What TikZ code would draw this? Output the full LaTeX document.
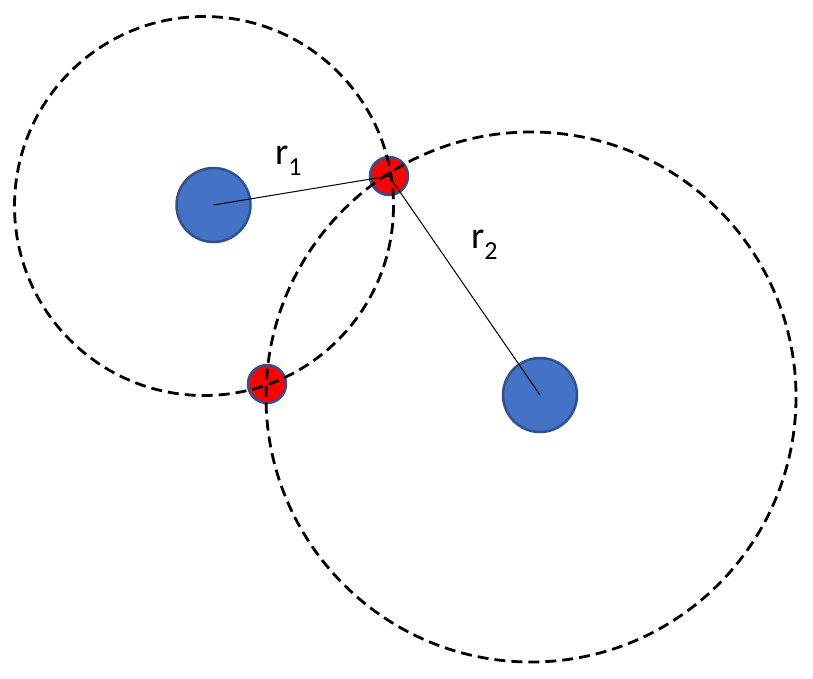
\documentclass[tikz,border=0pt]{standalone}
\usepackage{fontspec}
\setmainfont{Carlito}
\definecolor{pblue}{HTML}{4472C4}
\definecolor{pedge}{HTML}{2F528F}
\begin{document}
\begin{tikzpicture}[x=1pt,y=-1pt,
  bigdot/.style={circle,fill=pblue,draw=pedge,line width=2.5pt,minimum size=74pt,inner sep=0pt},
  reddot/.style={circle,fill=red,draw=pedge,line width=2.5pt,minimum size=38pt,inner sep=0pt},
  rangecircle/.style={draw=black,line width=2.8pt,dash pattern=on 11pt off 6pt},
  radiusline/.style={draw=black,line width=1pt},
  lbl/.style={anchor=base west,inner sep=0pt,font=\fontsize{38}{40}\selectfont}]
\useasboundingbox (0,0) rectangle (813,678);
\node[bigdot] (b1) at (213.5,205) {};
\node[bigdot] (b2) at (540,395) {};
\node[reddot] (p1) at (389,176) {};
\node[reddot] (p2) at (267,384) {};
\coordinate (c1) at (204,206);
\coordinate (c2) at (531,397);
\draw[rangecircle] (c1) circle[radius=189.5];
\draw[rangecircle] (c2) circle[radius=265];
\draw[radiusline] (b1.center) -- (p1.center);
\draw[radiusline] (p1.center) -- (b2.center);
\node[lbl] (l1) at (275,164) {r\raisebox{-11pt}{\fontsize{26}{28}\selectfont 1}};
\node[lbl] (l2) at (471,248) {r\raisebox{-11pt}{\fontsize{26}{28}\selectfont 2}};
\end{tikzpicture}
\end{document}
